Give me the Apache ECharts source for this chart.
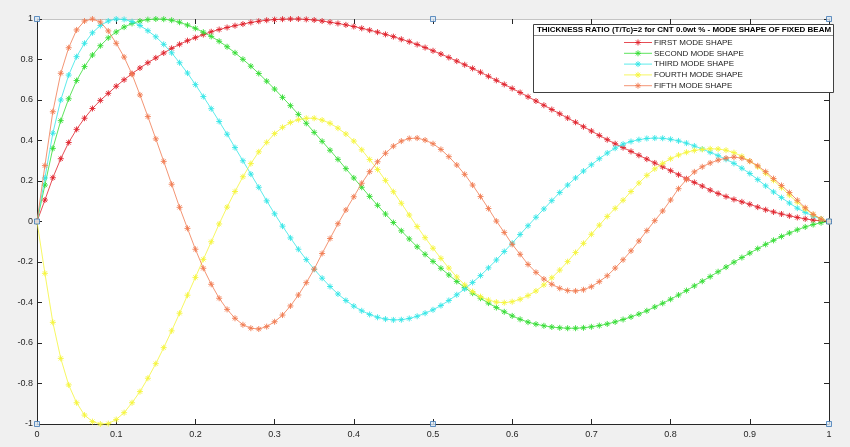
<!DOCTYPE html>
<html>
<head>
<meta charset="utf-8">
<script src="https://cdn.jsdelivr.net/npm/echarts@6/dist/echarts.min.js"></script>
<style>
html,body{margin:0;padding:0;background:#f0f0f0;}
#chart{width:850px;height:447px;}
</style>
</head>
<body>
<div id="chart"></div>
<script>
const xValues = [0,0.01,0.02,0.03,0.04,0.05,0.06,0.07,0.08,0.09,0.1,0.11,0.12,0.13,0.14,0.15,0.16,0.17,0.18,0.19,0.2,0.21,0.22,0.23,0.24,0.25,0.26,0.27,0.28,0.29,0.3,0.31,0.32,0.33,0.34,0.35,0.36,0.37,0.38,0.39,0.4,0.41,0.42,0.43,0.44,0.45,0.46,0.47,0.48,0.49,0.5,0.51,0.52,0.53,0.54,0.55,0.56,0.57,0.58,0.59,0.6,0.61,0.62,0.63,0.64,0.65,0.66,0.67,0.68,0.69,0.7,0.71,0.72,0.73,0.74,0.75,0.76,0.77,0.78,0.79,0.8,0.81,0.82,0.83,0.84,0.85,0.86,0.87,0.88,0.89,0.9,0.91,0.92,0.93,0.94,0.95,0.96,0.97,0.98,0.99,1];

const firstMode = [0,0.106,0.216,0.31,0.39,0.455,0.51,0.558,0.598,0.633,0.668,0.7,0.73,0.758,0.784,0.808,0.832,0.855,0.875,0.893,0.908,0.923,0.937,0.948,0.958,0.967,0.975,0.983,0.989,0.994,0.997,0.999,1,1,0.998,0.995,0.99,0.984,0.978,0.971,0.963,0.954,0.945,0.935,0.924,0.913,0.9,0.888,0.874,0.859,0.843,0.827,0.81,0.792,0.774,0.756,0.737,0.717,0.697,0.677,0.657,0.637,0.616,0.595,0.574,0.553,0.532,0.511,0.49,0.468,0.447,0.425,0.404,0.384,0.365,0.346,0.327,0.308,0.289,0.27,0.251,0.231,0.211,0.193,0.175,0.155,0.138,0.123,0.109,0.097,0.085,0.071,0.058,0.047,0.037,0.028,0.02,0.013,0.007,0.003,0];

const secondMode = [0,0.18,0.361,0.498,0.606,0.696,0.765,0.822,0.868,0.907,0.936,0.96,0.978,0.99,0.997,1,0.999,0.994,0.984,0.97,0.954,0.935,0.914,0.89,0.863,0.833,0.801,0.767,0.731,0.693,0.654,0.613,0.572,0.529,0.485,0.44,0.396,0.352,0.307,0.261,0.215,0.169,0.124,0.08,0.037,-0.005,-0.046,-0.086,-0.125,-0.162,-0.197,-0.231,-0.264,-0.296,-0.326,-0.354,-0.379,-0.403,-0.425,-0.446,-0.466,-0.483,-0.497,-0.507,-0.515,-0.521,-0.525,-0.527,-0.527,-0.525,-0.52,-0.514,-0.506,-0.496,-0.484,-0.471,-0.457,-0.441,-0.422,-0.404,-0.384,-0.363,-0.341,-0.318,-0.295,-0.272,-0.248,-0.225,-0.201,-0.178,-0.156,-0.134,-0.113,-0.093,-0.074,-0.057,-0.041,-0.027,-0.015,-0.006,0];

const thirdMode = [0,0.215,0.436,0.6,0.723,0.814,0.88,0.932,0.968,0.99,1,0.998,0.987,0.968,0.942,0.912,0.875,0.833,0.784,0.733,0.676,0.617,0.557,0.494,0.431,0.365,0.3,0.234,0.169,0.102,0.038,-0.023,-0.081,-0.137,-0.188,-0.236,-0.28,-0.321,-0.358,-0.39,-0.418,-0.441,-0.459,-0.473,-0.482,-0.486,-0.485,-0.479,-0.468,-0.453,-0.436,-0.415,-0.39,-0.362,-0.333,-0.301,-0.267,-0.229,-0.19,-0.148,-0.107,-0.064,-0.021,0.021,0.062,0.103,0.143,0.18,0.215,0.249,0.28,0.31,0.338,0.362,0.382,0.395,0.404,0.41,0.412,0.411,0.406,0.398,0.387,0.373,0.358,0.342,0.325,0.307,0.287,0.263,0.237,0.207,0.176,0.146,0.118,0.091,0.066,0.045,0.027,0.012,0];

const fourthMode = [0,-0.256,-0.498,-0.676,-0.807,-0.895,-0.956,-0.988,-1,-0.998,-0.978,-0.944,-0.895,-0.84,-0.774,-0.702,-0.623,-0.54,-0.453,-0.364,-0.276,-0.187,-0.1,-0.012,0.071,0.148,0.221,0.286,0.344,0.391,0.434,0.465,0.489,0.503,0.51,0.51,0.501,0.485,0.461,0.432,0.397,0.354,0.306,0.257,0.203,0.147,0.09,0.032,-0.025,-0.08,-0.132,-0.182,-0.23,-0.274,-0.313,-0.346,-0.371,-0.388,-0.398,-0.401,-0.396,-0.384,-0.366,-0.343,-0.313,-0.278,-0.24,-0.198,-0.153,-0.108,-0.063,-0.018,0.025,0.065,0.105,0.148,0.19,0.228,0.26,0.287,0.31,0.328,0.342,0.351,0.356,0.359,0.358,0.352,0.34,0.322,0.298,0.27,0.238,0.203,0.167,0.13,0.095,0.062,0.034,0.013,0];

const fifthMode = [0,0.276,0.542,0.732,0.858,0.946,0.99,1,0.985,0.941,0.88,0.812,0.727,0.625,0.518,0.408,0.297,0.184,0.07,-0.034,-0.137,-0.231,-0.31,-0.379,-0.434,-0.478,-0.51,-0.527,-0.531,-0.519,-0.495,-0.462,-0.417,-0.363,-0.302,-0.235,-0.158,-0.084,-0.011,0.057,0.122,0.189,0.246,0.295,0.337,0.372,0.397,0.41,0.412,0.402,0.384,0.356,0.32,0.279,0.233,0.18,0.123,0.064,0.002,-0.054,-0.113,-0.162,-0.212,-0.251,-0.284,-0.31,-0.33,-0.341,-0.343,-0.337,-0.322,-0.297,-0.268,-0.23,-0.189,-0.145,-0.096,-0.045,0.004,0.052,0.106,0.162,0.207,0.245,0.27,0.289,0.303,0.313,0.318,0.313,0.298,0.275,0.246,0.212,0.178,0.143,0.105,0.068,0.035,0.012,0];

const seriesNames = ['FIRST MODE SHAPE','SECOND MODE SHAPE','THIRD MODE SHAPE','FOURTH MODE SHAPE','FIFTH MODE SHAPE'];
const seriesValues = [firstMode, secondMode, thirdMode, fourthMode, fifthMode];
const seriesColors = ['#e0202a','#33dd33','#33e6e6','#f5f53a','#f07a50'];
const handleX = [0,0.5,1,0,1,0,0.5,1];
const handleY = [1,1,1,0,0,-1,-1,-1];
const legendTitle = 'THICKNESS RATIO (T/Tc)=2 for CNT 0.0wt % - MODE SHAPE OF FIXED BEAM';

const starPath = 'path://M0 5L10 5M5 0L5 10M1.5 1.5L8.5 8.5M8.5 1.5L1.5 8.5';

const series = seriesNames.map((name, i) => ({
  name: name,
  type: 'line',
  xAxisIndex: 0, yAxisIndex: 0,
  data: xValues.map((x, j) => [x, seriesValues[i][j]]),
  symbol: starPath,
  symbolSize: 6,
  showSymbol: true,
  clip: false,
  lineStyle: {color: seriesColors[i], width: 0.8},
  itemStyle: {color: seriesColors[i], borderColor: seriesColors[i], borderWidth: 0.9},
  emphasis: {disabled: true},
  z: 3 + i
}));
series.push({
  name: 'handles',
  type: 'scatter',
  data: handleX.map((x, j) => [x, handleY[j]]),
  symbol: 'rect',
  symbolSize: 5,
  clip: false,
  itemStyle: {color: '#dbe7f3', borderColor: '#3f78b5', borderWidth: 1},
  z: 20
});

// legend box drawn as graphics (real text)
const legendGraphics = [{
  type: 'rect', z: 25,
  shape: {x: 533.5, y: 24.5, width: 300, height: 68},
  style: {fill: '#ffffff', stroke: '#404040', lineWidth: 1}
}, {
  type: 'line', z: 26,
  shape: {x1: 534, y1: 35.5, x2: 833, y2: 35.5},
  style: {stroke: '#909090', lineWidth: 1}
}, {
  type: 'text', z: 27,
  style: {text: legendTitle, x: 684, y: 30, align: 'center', verticalAlign: 'middle',
    fill: '#000000', font: 'bold 8px "Liberation Sans", Arial'}
}];
const legendRowY = 42.5, legendRowGap = 10.8;
seriesNames.forEach((name, i) => {
  const y = legendRowY + i * legendRowGap;
  const cx = 638, r = 3, d = 2.1;
  const segs = [[cx - r, y, cx + r, y], [cx, y - r, cx, y + r], [cx - d, y - d, cx + d, y + d], [cx + d, y - d, cx - d, y + d]];
  legendGraphics.push({
    type: 'line', z: 26,
    shape: {x1: 624, y1: y, x2: 652, y2: y},
    style: {stroke: seriesColors[i], lineWidth: 0.8}
  });
  segs.forEach(s => legendGraphics.push({
    type: 'line', z: 26,
    shape: {x1: s[0], y1: s[1], x2: s[2], y2: s[3]},
    style: {stroke: seriesColors[i], lineWidth: 0.9}
  }));
  legendGraphics.push({
    type: 'text', z: 27,
    style: {text: name, x: 654, y: y, align: 'left', verticalAlign: 'middle',
      fill: '#1a1a1a', font: '8px "Liberation Sans", Arial'}
  });
});

const tickColor = '#262626';
const chart = echarts.init(document.getElementById('chart'), null, {renderer: 'canvas'});
chart.setOption({
  animation: false,
  backgroundColor: '#f0f0f0',
  grid: {left: 37, right: 21, top: 19, bottom: 23, show: true, backgroundColor: '#ffffff', borderWidth: 0},
  xAxis: [{
    type: 'value', min: 0, max: 1, interval: 0.1, position: 'bottom',
    axisLine: {show: true, onZero: false, lineStyle: {color: tickColor, width: 1}},
    axisTick: {show: true, inside: true, length: 5, lineStyle: {color: tickColor}},
    axisLabel: {color: tickColor, fontSize: 9, fontFamily: 'Liberation Sans, Arial', margin: 6},
    splitLine: {show: false}
  }, {
    type: 'value', min: 0, max: 1, interval: 0.1, position: 'top',
    axisLine: {show: true, onZero: false, lineStyle: {color: '#c4c4c4', width: 1}},
    axisTick: {show: true, inside: true, length: 5, lineStyle: {color: tickColor}},
    axisLabel: {show: false},
    splitLine: {show: false}
  }],
  yAxis: [{
    type: 'value', min: -1, max: 1, interval: 0.2, position: 'left',
    axisLine: {show: true, onZero: false, lineStyle: {color: tickColor, width: 1}},
    axisTick: {show: true, inside: true, length: 5, lineStyle: {color: tickColor}},
    axisLabel: {color: tickColor, fontSize: 9, fontFamily: 'Liberation Sans, Arial', margin: 4},
    splitLine: {show: false}
  }, {
    type: 'value', min: -1, max: 1, interval: 0.2, position: 'right',
    axisLine: {show: true, onZero: false, lineStyle: {color: tickColor, width: 1}},
    axisTick: {show: true, inside: true, length: 5, lineStyle: {color: tickColor}},
    axisLabel: {show: false},
    splitLine: {show: false}
  }],
  graphic: legendGraphics,
  series: series
});
</script>
</body>
</html>
